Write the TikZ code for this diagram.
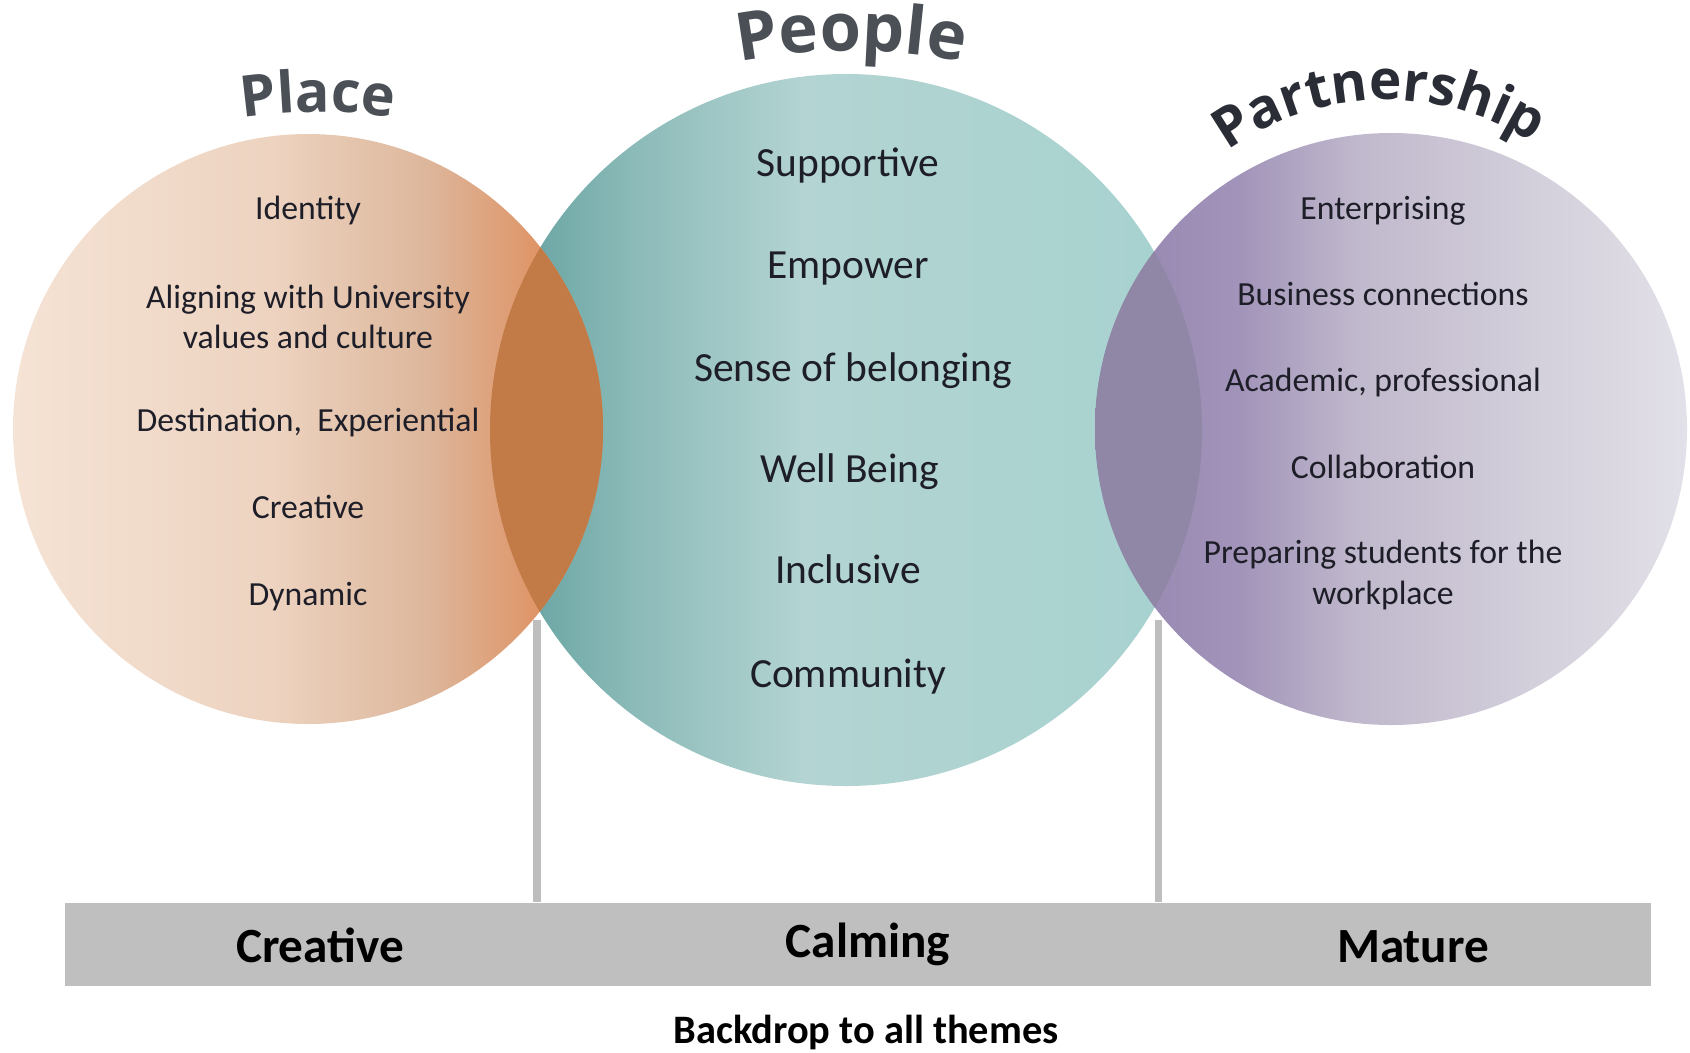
\documentclass[tikz,border=0pt]{standalone}
\usepackage{fontspec}
\setmainfont{Carlito}
\newfontfamily\titlefont{Open Sans}
\usepackage{tikz}
\usetikzlibrary{decorations.text}

% colours
\definecolor{placeA}{HTML}{F5E3D5}
\definecolor{placeB}{HTML}{EDD3C0}
\definecolor{placeC}{HTML}{DDB79C}
\definecolor{placeD}{HTML}{DE9A70}
\definecolor{placeE}{HTML}{E3803F}
\definecolor{peopleA}{HTML}{5E9E9C}
\definecolor{peopleB}{HTML}{8BBAB8}
\definecolor{peopleC}{HTML}{B3D4D2}
\definecolor{peopleD}{HTML}{A6D2CF}
\definecolor{partA}{HTML}{9585B0}
\definecolor{partB}{HTML}{A193B9}
\definecolor{partC}{HTML}{C0B8CC}
\definecolor{partD}{HTML}{D3CFDB}
\definecolor{partE}{HTML}{E2E0E8}
\definecolor{lensPlace}{HTML}{C27A46}
\definecolor{lensPart}{HTML}{8F87A5}
\definecolor{barGrey}{HTML}{BFBFBF}
\definecolor{tickGrey}{HTML}{BEBEBE}
\definecolor{inkBlack}{HTML}{1E1E28}
\definecolor{titleGrey}{HTML}{4B5057}
\definecolor{titleDark}{HTML}{2A2D36}

\pgfdeclarehorizontalshading{placeshade}{100bp}{color(0bp)=(placeA); color(25bp)=(placeA); color(47bp)=(placeB); color(60bp)=(placeC); color(68bp)=(placeD); color(75bp)=(placeE); color(100bp)=(placeE)}
\pgfdeclarehorizontalshading{peopleshade}{100bp}{color(0bp)=(peopleA); color(25bp)=(peopleA); color(35bp)=(peopleB); color(47bp)=(peopleC); color(75bp)=(peopleD); color(100bp)=(peopleD)}
\pgfdeclarehorizontalshading{partshade}{100bp}{color(0bp)=(partA); color(25bp)=(partA); color(37bp)=(partB); color(47bp)=(partC); color(62bp)=(partD); color(75bp)=(partE); color(100bp)=(partE)}

\tikzset{
  item/.style={font=\fontsize{9.6}{11.4}\selectfont, text=inkBlack, align=center, anchor=mid},
  bigitem/.style={item, font=\fontsize{11.8}{14}\selectfont},
  twoline/.style={item, anchor=center},
  bartext/.style={font=\bfseries\fontsize{14}{16}\selectfont, text=black, anchor=base},
  tick/.style={draw=tickGrey, line width=2pt},
}

\begin{document}
\begin{tikzpicture}[x=0.1mm,y=-0.1mm]
    \useasboundingbox (0,0) rectangle (1690,1052);

    % Circles
    \shade[shading=peopleshade] (846,430) circle (356);
    \shade[shading=placeshade] (308,429) circle (295);
    \shade[shading=partshade] (1391,429) circle (296);

    % Overlaps
    \begin{scope}
      \clip (308,429) circle (295);
      \fill[lensPlace] (846,430) circle (356);
    \end{scope}
    \begin{scope}
      \clip (1391,429) circle (296);
      \fill[lensPart] (846,430) circle (356);
    \end{scope}

    % Titles
    \path[decorate, decoration={text along path, text align=center,
        text={|\titlefont\bfseries\fontsize{16.3}{18}\selectfont\color{titleGrey}|Place}}]
        (231.2,119.6) arc[start angle=100, end angle=80, radius=50mm];
    \path[decorate, decoration={text along path, text align=center,
        text={|\titlefont\bfseries\fontsize{19}{21}\selectfont\color{titleGrey}|People}}]
        (696,71.4) arc[start angle=105, end angle=75, radius=60mm];
    \path[decorate, decoration={text along path, text align=center,
        text={|\titlefont\bfseries\fontsize{15.6}{18}\selectfont\color{titleDark}|Partnership}}]
        (1180,196) arc[start angle=140, end angle=43, radius=26.9mm];

    % Place
    \node[item] (identity) at (308,211) {Identity};
    \node[twoline] (aligning) at (308,317) {Aligning with University\\values and culture};
    \node[item] (destination) at (308,423) {Destination,~ Experiential};
    \node[item] (creativeP) at (308,510) {Creative};
    \node[item] (dynamic) at (308,597) {Dynamic};

    % People
    \node[bigitem] (supportive) at (848,168) {Supportive};
    \node[bigitem] (empower) at (848,270) {Empower};
    \node[bigitem] (belonging) at (853,373) {Sense of belonging};
    \node[bigitem] (wellbeing) at (850,474) {Well Being};
    \node[bigitem] (inclusive) at (848,575) {Inclusive};
    \node[bigitem] (community) at (848,679) {Community};

    % Partnership
    \node[item] (enterprising) at (1383,211) {Enterprising};
    \node[item] (business) at (1383,297) {Business connections};
    \node[item] (academic) at (1383,383) {Academic, professional};
    \node[item] (collab) at (1383,470) {Collaboration};
    \node[twoline] (preparing) at (1383,575) {Preparing students for the\\workplace};

    % Backdrop bar
    \node[fill=barGrey, minimum width=158.6mm, minimum height=8.3mm, inner sep=0] (bar) at (858,944.5) {};
    \node[bartext] (creative) at (320,962) {Creative};
    \node[bartext] (calming) at (868,957) {Calming};
    \node[bartext] (mature) at (1413,962) {Mature};
    \node[bartext, font=\bfseries\fontsize{11.5}{14}\selectfont] (backdrop) at (866,1043) {Backdrop to all themes};

    % Ticks
    \coordinate (tickL) at (537,620);
    \coordinate (tickR) at (1158,620);
    \draw[tick] (tickL) -- (tickL |- bar.north);
    \draw[tick] (tickR) -- (tickR |- bar.north);
\end{tikzpicture}
\end{document}
